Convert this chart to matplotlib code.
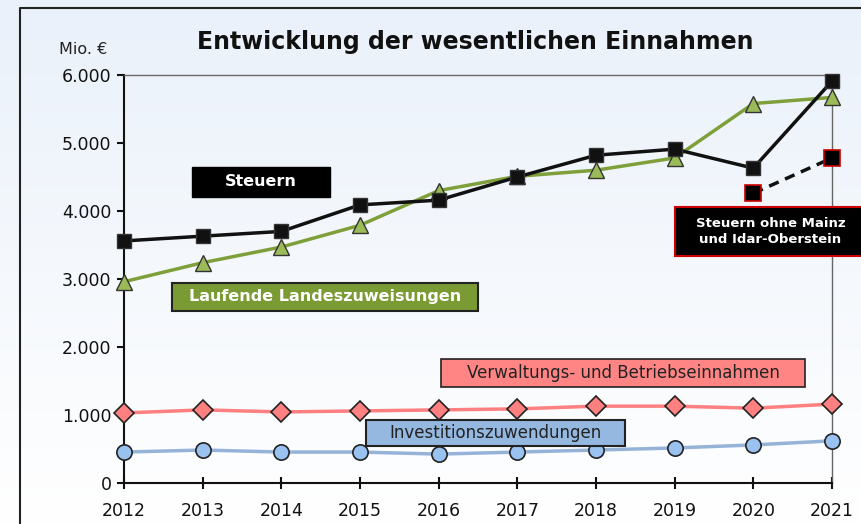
import matplotlib
matplotlib.use("Agg")
import matplotlib.pyplot as plt
from matplotlib.patches import Rectangle
from matplotlib.colors import LinearSegmentedColormap
import numpy as np

plt.rcParams['font.family'] = ['DejaVu Sans']

years = [2012, 2013, 2014, 2015, 2016, 2017, 2018, 2019, 2020, 2021]
steuern = [3560, 3630, 3700, 4090, 4160, 4500, 4820, 4910, 4630, 5910]
laufende = [2960, 3240, 3470, 3790, 4300, 4510, 4600, 4780, 5580, 5670]
verwaltung = [1030, 1075, 1045, 1060, 1075, 1090, 1130, 1130, 1100, 1160]
invest = [455, 485, 455, 455, 425, 455, 485, 515, 560, 620]
ohne_years = [2020, 2021]
ohne = [4260, 4780]
yticks = [0, 1000, 2000, 3000, 4000, 5000, 6000]
ytick_labels = ["0", "1.000", "2.000", "3.000", "4.000", "5.000", "6.000"]

W, H = 862, 524
fig = plt.figure(figsize=(W/100, H/100), dpi=100)
bg = fig.add_axes([0, 0, 1, 1])
grad = np.linspace(0, 1, 256).reshape(-1, 1)
cmap = LinearSegmentedColormap.from_list("bg", ["#ffffff", "#eaf1fa"])
bg.imshow(grad, aspect='auto', cmap=cmap, extent=[0, 1, 0, 1], origin='lower')
bg.set_xlim(0, 1); bg.set_ylim(0, 1)
bg.axis('off')
bg.plot([20/W, 20/W, 1], [0, 1-8/H, 1-8/H], color='#222222', lw=1.5)

ax = fig.add_axes([124/W, 1-483/H, (832-124)/W, (483-75)/H])
ax.patch.set_alpha(0)
ax.set_xlim(2012, 2021)
ax.set_ylim(0, 6000)

ax.plot(years, laufende, color='#7f9f3a', lw=2.5, marker='^', ms=11,
        mfc='#9bbb59', mec='#333333', mew=1.0, zorder=3, clip_on=False)
ax.plot(years, steuern, color='#111111', lw=2.5, marker='s', ms=10.5,
        mfc='#111111', mec='#333333', mew=1.0, zorder=4, clip_on=False)
ax.plot(years, verwaltung, color='#ff8080', lw=2.5, marker='D', ms=10,
        mfc='#ff8080', mec='#222222', mew=1.2, zorder=3, clip_on=False)
ax.plot(years, invest, color='#95b3d7', lw=2.5, marker='o', ms=11,
        mfc='#99c2f0', mec='#222222', mew=1.2, zorder=3, clip_on=False)
ax.plot(ohne_years, ohne, color='#111111', lw=2.5, ls=(0, (3, 2)), marker='s', ms=11,
        mfc='#000000', mec='#cc0000', mew=1.2, zorder=4, clip_on=False)

for s in ['left', 'bottom']:
    ax.spines[s].set_color('#111111')
    ax.spines[s].set_linewidth(1.5)
for s in ['top', 'right']:
    ax.spines[s].set_color('#666666')
    ax.spines[s].set_linewidth(1.0)

ax.set_xticks(years)
ax.set_xticklabels([str(y) for y in years], fontsize=12.5)
ax.set_yticks(yticks)
ax.set_yticklabels(ytick_labels, fontsize=12.5)
ax.tick_params(axis='x', direction='inout', length=8, width=1.5, colors='#111111', pad=10)
ax.tick_params(axis='y', direction='out', length=5, width=1.5, colors='#111111', pad=4)

fig.text(475/W, 1-42/H, "Entwicklung der wesentlichen Einnahmen", ha='center', va='center',
         fontsize=17, fontweight='bold', color='#111111')
fig.text(83/W, 1-50/H, "Mio. €", ha='center', va='center', fontsize=11.5, color='#222222')

def label(x0, x1, y0, y1, txt, fc, tc, ec, lw, fs, bold):
    fig.add_artist(Rectangle((x0/W, 1-y1/H), (x1-x0)/W, (y1-y0)/H, transform=fig.transFigure,
                             fc=fc, ec=ec, lw=lw, zorder=5, clip_on=False))
    fig.text((x0+x1)/2/W, 1-(y0+y1)/2/H, txt, ha='center', va='center', fontsize=fs,
             fontweight='bold' if bold else 'normal', color=tc, zorder=6, linespacing=1.3)

label(192, 330, 167, 197, "Steuern", '#000000', 'white', '#000000', 1, 11.5, True)
label(172, 478, 283, 311, "Laufende Landeszuweisungen", '#7a9b33', 'white', '#222222', 1.5, 11.5, True)
label(441, 805, 359, 387, "Verwaltungs- und Betriebseinnahmen", '#ff8585', '#222222', '#222222', 1.2, 12, False)
label(366, 625, 420, 446, "Investitionszuwendungen", '#95b8e0', '#222222', '#222222', 1.5, 12, False)
label(675, 866, 207, 256, "Steuern ohne Mainz\nund Idar-Oberstein", '#000000', 'white', '#cc0000', 1.5, 9.5, True)

fig.savefig("out.png", dpi=100)
